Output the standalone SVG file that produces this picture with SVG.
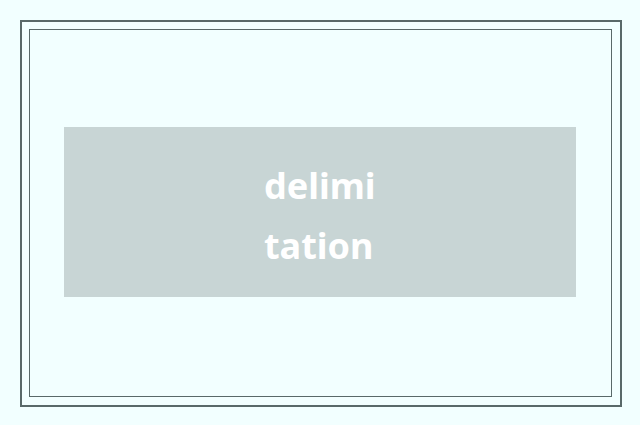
<svg xmlns="http://www.w3.org/2000/svg" width="640" height="425" viewBox="0 0 640 425">
<style>
.frame{fill:none;stroke:#596969}
.lbl{font-family:"Noto Sans","Open Sans",sans-serif;font-weight:700;font-size:36px;fill:#ffffff}
</style>
<rect x="0" y="0" width="640" height="425" fill="#f2ffff"/>
<rect class="frame" x="21" y="21" width="600" height="385" stroke-width="2"/>
<rect class="frame" x="29.5" y="29.5" width="582" height="367" stroke-width="1"/>
<g id="node-delimitation">
<rect x="64" y="127" width="512" height="170" fill="#c8d5d5"/>
<text class="lbl" x="264" y="199">delimi</text>
<text class="lbl" x="264" y="259">tation</text>
</g>
<g id="connectors"/>
</svg>
